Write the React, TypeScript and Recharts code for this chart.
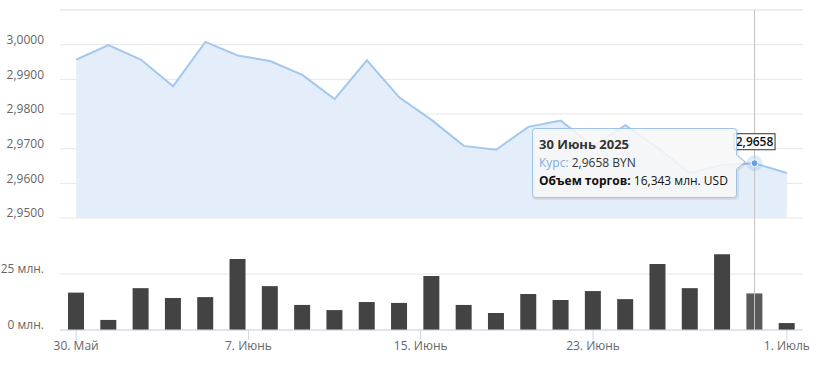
import React from 'react';
import {
  Area,
  Bar,
  CartesianGrid,
  Cell,
  ComposedChart,
  ReferenceDot,
  ReferenceLine,
  Tooltip,
  XAxis,
  YAxis,
} from 'recharts';

// trading days shown on the ordinal axis
const DATES = [
  '2025-05-30', '2025-06-02', '2025-06-03', '2025-06-04', '2025-06-05', '2025-06-06',
  '2025-06-09', '2025-06-10', '2025-06-11', '2025-06-12', '2025-06-13',
  '2025-06-16', '2025-06-17', '2025-06-18', '2025-06-19', '2025-06-20',
  '2025-06-23', '2025-06-24', '2025-06-25', '2025-06-26', '2025-06-27',
  '2025-06-30', '2025-07-01',
];
// курс BYN за USD
const RATE = [
  2.9957, 2.9999, 2.9957, 2.988, 3.0008, 2.9969,
  2.9953, 2.9913, 2.9843, 2.9955, 2.9848,
  2.9783, 2.9708, 2.9697, 2.9763, 2.9781,
  2.9707, 2.9768, 2.9702, 2.963, 2.9653,
  2.9658, 2.963,
];
// объем торгов, млн. USD
const VOLUME = [
  16.7, 4.5, 18.7, 14.3, 14.7, 31.7,
  19.6, 11.2, 8.9, 12.5, 12.1,
  24.1, 11.2, 7.6, 16.1, 13.4,
  17.4, 13.8, 29.5, 18.7, 33.9,
  16.343, 3.1,
];
const RATE_TICKS = [2.95, 2.96, 2.97, 2.98, 2.99, 3.0, 3.01];
const VOLUME_TICKS = [0, 25];
const TICK_DATES = ['2025-05-30', '2025-06-07', '2025-06-15', '2025-06-23', '2025-07-01'];
const TICK_LABELS = ['30. Май', '7. Июнь', '15. Июнь', '23. Июнь', '1. Июль'];
const MONTHS = [
  'Январь', 'Февраль', 'Март', 'Апрель', 'Май', 'Июнь',
  'Июль', 'Август', 'Сентябрь', 'Октябрь', 'Ноябрь', 'Декабрь',
];
const HOVER = 21;

const VOL_AXIS_MAX = 143;
const FONT = '"Open Sans", sans-serif';
const LINE = '#a3c7ed';
const FILL = '#e4eefa';
const GRID = '#e6e6e6';
const AXIS = '#ccd6eb';

const dayNum = (s: string) => Date.parse(s + 'T00:00:00Z') / 86400000;

// position of a calendar date on the ordinal (trading-day) axis
const ordinalPos = (s: string) => {
  const d = dayNum(s);
  for (let i = 0; i < DATES.length - 1; i++) {
    const a = dayNum(DATES[i]);
    const b = dayNum(DATES[i + 1]);
    if (d >= a && d < b) return i + (d - a) / (b - a);
  }
  return DATES.length - 1;
};
const TICK_POS = TICK_DATES.map(ordinalPos);

const rows = DATES.map((d, i) => ({ x: i, date: d, rate: RATE[i], vol: VOLUME[i] }));

const fmtRate = (v: number) => v.toFixed(4).replace('.', ',');
const fmtDate = (s: string) => {
  const [y, m, d] = s.split('-').map(Number);
  return `${d} ${MONTHS[m - 1]} ${y}`;
};

const HoverMarker = (props: any) => {
  const { cx, cy } = props;
  return (
    <g>
      <circle cx={cx} cy={cy} r={8} fill='#7cb5ec' fillOpacity={0.25} />
      <circle cx={cx} cy={cy} r={3.5} fill='#6a9fd8' stroke='#fff' strokeWidth={1} />
      <rect x={cx - 20.5} y={cy - 29.5} width={41} height={16} fill='#fff' stroke='#333' />
      <text x={cx} y={cy - 17} textAnchor='middle' fontSize={12} fontWeight={600} fill='#111' fontFamily={FONT}>
        {fmtRate(RATE[HOVER])}
      </text>
    </g>
  );
};

const TipBox = () => {
  const r = rows[HOVER];
  const box = 'M3.5 0.5 H201.5 Q204.5 0.5 204.5 3.5 V27 L213 34 L204.5 41 V66.5 Q204.5 69.5 201.5 69.5 H3.5 Q0.5 69.5 0.5 66.5 V3.5 Q0.5 0.5 3.5 0.5 Z';
  return (
    <svg width={218} height={74} style={{ display: 'block', overflow: 'visible' }} fontFamily={FONT} fontSize={12}>
      <path d={box} transform='translate(1 1)' fill='none' stroke='rgba(0,0,0,0.08)' strokeWidth={3} />
      <path d={box} fill='rgba(247,247,247,0.88)' stroke='#9ec2e8' />
      <text x={7} y={21} fontSize={13} fontWeight={700} fill='#333'>{fmtDate(r.date)}</text>
      <text x={7} y={39} fill='#333'>
        <tspan fill='#7eaee3'>Курс:</tspan> {fmtRate(r.rate)} BYN
      </text>
      <text x={7} y={57} fill='#111'>
        <tspan fontWeight={700}>Объем торгов:</tspan> {r.vol.toFixed(3).replace('.', ',')} млн. USD
      </text>
    </svg>
  );
};

export default function App() {
  return (
    <div style={{ position: 'absolute', left: 0, top: 0, width: 819, height: 366, fontFamily: FONT }}>
      <div style={{ position: 'absolute', left: 0, top: 0 }}>
        <ComposedChart width={819} height={366} data={rows} margin={{ top: 10, right: 16, bottom: 0, left: 0 }}>
          <CartesianGrid vertical={false} stroke={GRID} />
          <XAxis
            type='number'
            dataKey='x'
            domain={[-0.5, 22.5]}
            ticks={TICK_POS}
            tickFormatter={(v: number) => TICK_LABELS[TICK_POS.indexOf(v)] ?? ''}
            interval={0}
            height={36}
            tickSize={10}
            tickMargin={1}
            stroke={AXIS}
            tick={{ fill: '#666', fontSize: 12 }}
          />
          <YAxis
            type='number'
            domain={[0, VOL_AXIS_MAX]}
            ticks={VOLUME_TICKS}
            tickFormatter={(v: number) => `${v} млн.`}
            width={60}
            axisLine={false}
            tickLine={false}
            tickSize={0}
            tickMargin={16}
            tick={{ fill: '#666', fontSize: 12, dy: -5 }}
          />
          <Bar dataKey='vol' barSize={16} fill='#434343' isAnimationActive={false}>
            {rows.map((r, i) => (
              <Cell key={r.date} fill={i === HOVER ? '#5a5a5a' : '#434343'} />
            ))}
          </Bar>
          <ReferenceLine x={HOVER} stroke='#c4c4c4' />
        </ComposedChart>
      </div>
      <div style={{ position: 'absolute', left: 0, top: 0 }}>
        <ComposedChart width={819} height={230} data={rows} margin={{ top: 10, right: 16, bottom: 12, left: 0 }}>
          <CartesianGrid vertical={false} stroke={GRID} />
          <XAxis type='number' dataKey='x' domain={[-0.5, 22.5]} hide />
          <YAxis
            type='number'
            domain={[2.95, 3.01]}
            ticks={RATE_TICKS}
            tickFormatter={(v: number) => (v === RATE_TICKS[RATE_TICKS.length - 1] ? '' : fmtRate(v))}
            width={60}
            axisLine={false}
            tickLine={false}
            tickSize={0}
            tickMargin={16}
            tick={{ fill: '#666', fontSize: 12, dy: -5 }}
          />
          <Area
            type='linear'
            dataKey='rate'
            stroke={LINE}
            strokeWidth={2}
            fill={FILL}
            fillOpacity={1}
            dot={false}
            activeDot={false}
            isAnimationActive={false}
          />
          <ReferenceLine x={HOVER} stroke='#c4c4c4' />
          <ReferenceDot x={HOVER} y={RATE[HOVER]} shape={HoverMarker} />
          <Tooltip
            active
            defaultIndex={HOVER}
            cursor={false}
            isAnimationActive={false}
            position={{ x: 532, y: 128 }}
            content={<TipBox />}
          />
        </ComposedChart>
      </div>
    </div>
  );
}
